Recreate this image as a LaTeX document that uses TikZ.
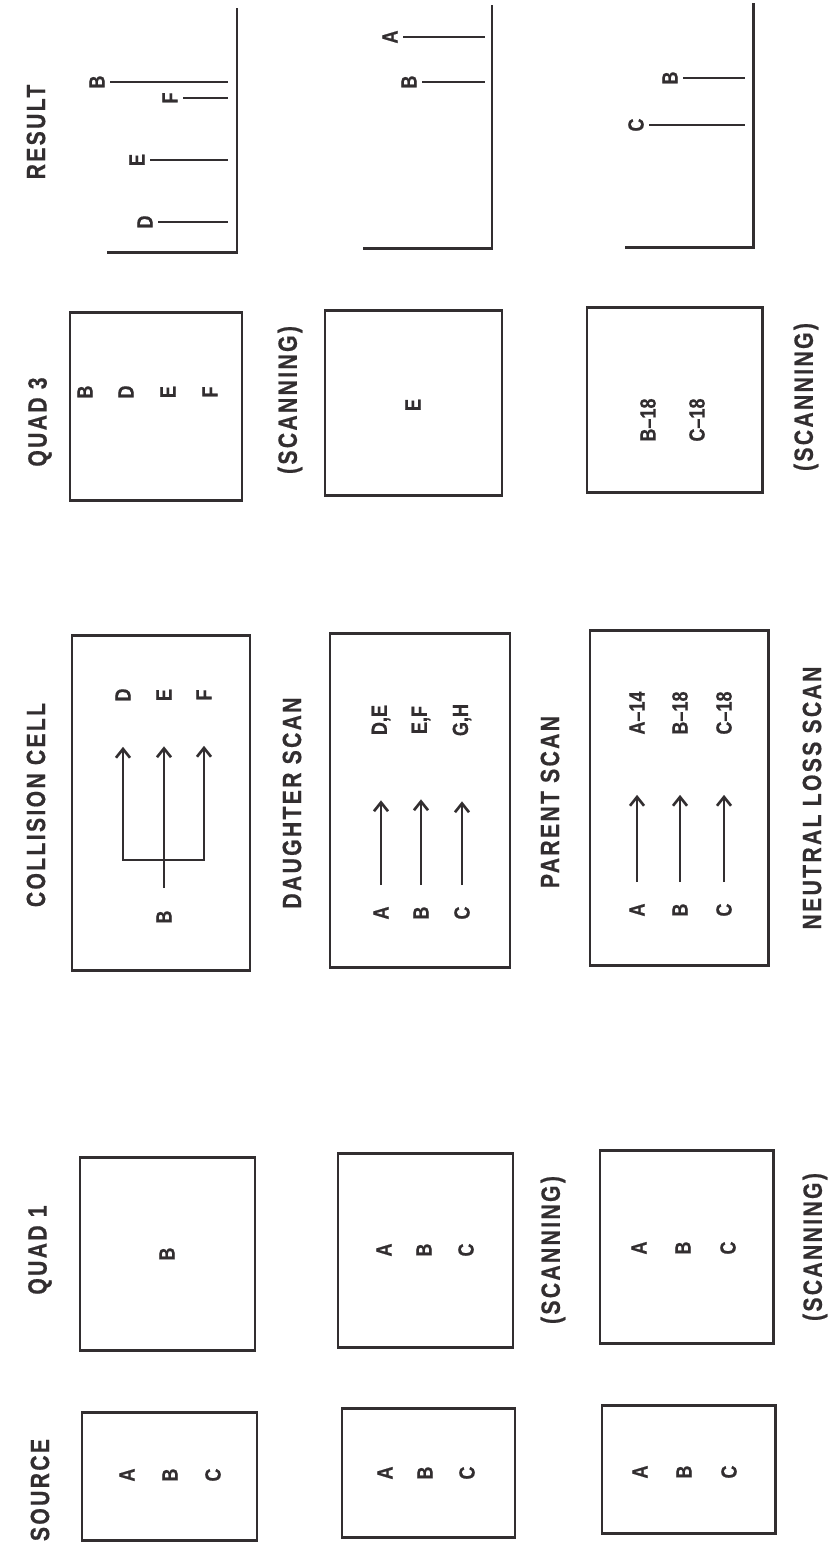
\documentclass[tikz,border=0pt]{standalone}
\usepackage{fontspec}
\setmainfont{Liberation Sans}[FakeStretch=0.8]
\newfontfamily\headfont{Liberation Sans}[Ligatures=TeX, FakeStretch=0.8, LetterSpace=9, FakeBold=0.6]
\newfontfamily\ionfont{Liberation Sans}[Ligatures=TeX, FakeStretch=0.82, FakeBold=0.6]
\usetikzlibrary{arrows.meta, positioning}
\definecolor{ink}{RGB}{50, 46, 48}
\tikzset{
  % Qutilar va o'qlar
  boxline/.style  = {line width=1.7pt, draw=ink},
  axisline/.style = {line width=1.7pt, draw=ink},
  peak/.style     = {line width=1.5pt, draw=ink, shorten <=3pt},
  arr/.style      = {-{Straight Barb[length=5pt, width=8pt, line width=1.5pt]}, line width=1.6pt, draw=ink},
  stem/.style     = {line width=1.6pt, draw=ink},
  % Matnlar
  ion/.style      = {rotate=90, inner sep=0pt, text=ink, font=\ionfont\bfseries\fontsize{12.5}{14}\selectfont},
  head/.style     = {rotate=90, inner sep=0pt, text=ink, font=\headfont\bfseries\fontsize{15}{17}\selectfont},
}

\begin{document}
\begin{tikzpicture}[x=0.02cm, y=-0.02cm]
  \useasboundingbox (0,0) rectangle (836,1546);
  % Sarlavhalar
  \node[head] (hSrc) at (40,1490) {SOURCE};
  \node[head] (hQ1)  at (40,1250) {QUAD 1};
  \node[head] (hCol) at (36,805)  {COLLISION CELL};
  \node[head] (hQ3)  at (40,422)  {QUAD 3};
  \node[head] (hRes) at (36,132)  {RESULT};
  \node[head] (hDau) at (292,803) {DAUGHTER SCAN};
  \node[head] (hPar) at (550,802) {PARENT SCAN};
  \node[head] (hNeu) at (812,798) {NEUTRAL LOSS SCAN};
  \node[head] (scanA) at (553,1250) {(SCANNING)};
  \node[head] (scanB) at (815,1247) {(SCANNING)};
  \node[head] (scanC) at (290,400)  {(SCANNING)};
  \node[head] (scanD) at (806,397)  {(SCANNING)};

  % Qutilar
  \draw[boxline] (82,1412) rectangle (257,1540);
  \draw[boxline] (342,1408) rectangle (515,1537);
  \draw[boxline] (602,1405) rectangle (775,1533);
  \draw[boxline] (80,1157) rectangle (255,1350);
  \draw[boxline] (338,1153) rectangle (513,1347);
  \draw[boxline] (600,1150) rectangle (773,1343);
  \draw[boxline] (72,635) rectangle (250,970);
  \draw[boxline] (330,633) rectangle (510,967);
  \draw[boxline] (590,630) rectangle (768,965);
  \draw[boxline] (70,312) rectangle (242,500);
  \draw[boxline] (325,310) rectangle (502,495);
  \draw[boxline] (587,307) rectangle (762,492);

  % Manba
  \node[ion] (s1A) at (127,1475) {A};
  \node[ion] (s1B) at (170,1475) {B};
  \node[ion] (s1C) at (213,1475) {C};
  \node[ion] (s2A) at (385,1473) {A};
  \node[ion] (s2B) at (425,1473) {B};
  \node[ion] (s2C) at (467,1473) {C};
  \node[ion] (s3A) at (640,1472) {A};
  \node[ion] (s3B) at (684,1472) {B};
  \node[ion] (s3C) at (729,1472) {C};

  % Quad 1
  \node[ion] (q1B)  at (167,1254) {B};
  \node[ion] (q2A)  at (384,1250) {A};
  \node[ion] (q2B)  at (424,1250) {B};
  \node[ion] (q2C)  at (466,1250) {C};
  \node[ion] (q3A)  at (639,1248) {A};
  \node[ion] (q3B)  at (683,1248) {B};
  \node[ion] (q3C)  at (728,1248) {C};

  % To'qnashuv yacheykasi
  \node[ion] (c1B) at (164,917) {B};
  \node[ion] (c1D) at (123,695) {D};
  \node[ion] (c1E) at (164,695) {E};
  \node[ion] (c1F) at (204,695) {F};
  \coordinate (fk) at (164,860);
  \draw[stem] (c1B.east) ++(0,-22) -- (fk);
  \draw[arr, shorten >=0.9cm] (fk) -| (c1D);
  \draw[arr, shorten >=0.9cm] (fk) -- (c1E);
  \draw[arr, shorten >=0.9cm] (fk) -| (c1F);

  \node[ion] (c2A)  at (381,913) {A};
  \node[ion] (c2B)  at (421,913) {B};
  \node[ion] (c2C)  at (462,913) {C};
  \node[ion] (c2DE) at (381,720) {D,E};
  \node[ion] (c2EF) at (421,720) {E,F};
  \node[ion] (c2GH) at (462,720) {G,H};
  \draw[arr, shorten <=0.42cm, shorten >=1.3cm] (c2A) -- (c2DE);
  \draw[arr, shorten <=0.42cm, shorten >=1.3cm] (c2B) -- (c2EF);
  \draw[arr, shorten <=0.42cm, shorten >=1.3cm] (c2C) -- (c2GH);

  \node[ion] (c3A)  at (637,910) {A};
  \node[ion] (c3B)  at (680,910) {B};
  \node[ion] (c3C)  at (724,910) {C};
  \node[ion] (c3Ax) at (637,713) {A--14};
  \node[ion] (c3Bx) at (680,713) {B--18};
  \node[ion] (c3Cx) at (724,713) {C--18};
  \draw[arr, shorten <=0.42cm, shorten >=1.2cm] (c3A) -- (c3Ax);
  \draw[arr, shorten <=0.42cm, shorten >=1.2cm] (c3B) -- (c3Bx);
  \draw[arr, shorten <=0.42cm, shorten >=1.2cm] (c3C) -- (c3Cx);

  % Quad 3
  \node[ion] (t1B) at (85,392)  {B};
  \node[ion] (t1D) at (126,392) {D};
  \node[ion] (t1E) at (168,392) {E};
  \node[ion] (t1F) at (210,392) {F};
  \node[ion] (t2E) at (413,405) {E};
  \node[ion] (t3B) at (648,420) {B--18};
  \node[ion] (t3C) at (697,420) {C--18};

  % Natijalar
  \coordinate (b1) at (228,0);
  \coordinate (b2) at (485,0);
  \coordinate (b3) at (745,0);
  \draw[axisline] (237,8) -- (237,252) -- (107,252);
  \draw[axisline] (492,5) -- (492,248) -- (363,248);
  \draw[axisline] (753,3) -- (753,247) -- (625,247);
  \node[ion] (r1D) at (145,222) {D};
  \node[ion] (r1E) at (137,160) {E};
  \node[ion] (r1F) at (170,98)  {F};
  \node[ion] (r1B) at (97,82)   {B};
  \draw[peak] (r1D) -- (r1D -| b1);
  \draw[peak] (r1E) -- (r1E -| b1);
  \draw[peak] (r1F) -- (r1F -| b1);
  \draw[peak] (r1B) -- (r1B -| b1);
  \node[ion] (r2A) at (390,37) {A};
  \node[ion] (r2B) at (409,82) {B};
  \draw[peak] (r2A) -- (r2A -| b2);
  \draw[peak] (r2B) -- (r2B -| b2);
  \node[ion] (r3B) at (670,78)  {B};
  \node[ion] (r3C) at (636,125) {C};
  \draw[peak] (r3B) -- (r3B -| b3);
  \draw[peak] (r3C) -- (r3C -| b3);
\end{tikzpicture}
\end{document}
